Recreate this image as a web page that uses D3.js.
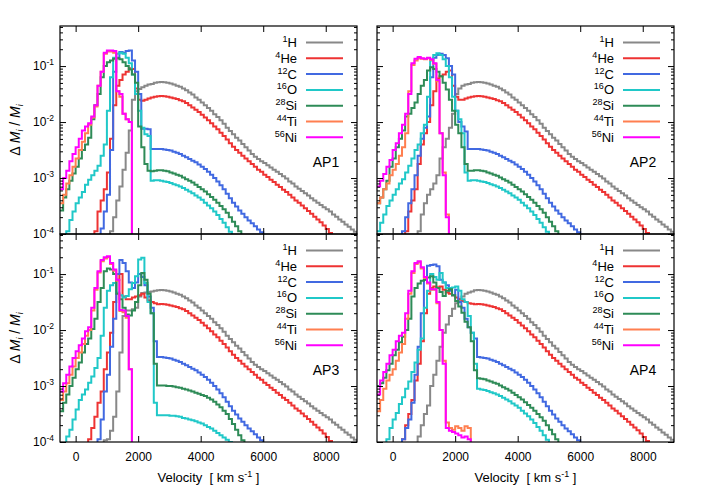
<!DOCTYPE html>
<html>
<head>
<meta charset="utf-8">
<script src="https://cdn.jsdelivr.net/npm/d3@7"></script>
<style>
body { margin: 0; background: #fff; }
text { font-family: "Liberation Sans", Arial, sans-serif; fill: #000; }
</style>
</head>
<body>
<svg id="chart" width="708" height="487"></svg>
<script>
var species = ["H", "He", "C", "O", "Si", "Ti", "Ni"];
var massNumbers = ["1", "4", "12", "16", "28", "44", "56"];
var modelNames = ["AP1", "AP2", "AP3", "AP4"];
var velocityTicks = [0, 2000, 4000, 6000, 8000];
var decadeTicks = [1e-4, 1e-3, 1e-2, 1e-1];
var binWidth = 100;     // km/s
var tailStart = 2600;   // first bin of the shared outer tails

// values below are log10(dM_i / M_i), one per 100 km/s bin

// outer envelope, same in all models
var tailH = [-1.29, -1.285, -1.29, -1.30, -1.31, -1.33, -1.35, -1.37, -1.40, -1.43, -1.47, -1.51, -1.56, -1.60, -1.65, -1.70, -1.75, -1.80, -1.86, -1.91, -1.97, -2.03, -2.10, -2.16, -2.22, -2.28, -2.33, -2.39, -2.45, -2.51, -2.57, -2.62, -2.66, -2.70, -2.73, -2.77, -2.81, -2.85, -2.89, -2.93, -2.97, -3.01, -3.06, -3.10, -3.15, -3.19, -3.23, -3.27, -3.31, -3.36, -3.40, -3.44, -3.48, -3.52, -3.56, -3.60, -3.65, -3.69, -3.74, -3.78, -3.83, -3.87, -3.92, -3.96, -4.01];
var tailHe = [-1.54, -1.535, -1.54, -1.55, -1.56, -1.575, -1.59, -1.61, -1.63, -1.66, -1.70, -1.74, -1.78, -1.82, -1.87, -1.92, -1.97, -2.02, -2.08, -2.13, -2.19, -2.25, -2.31, -2.38, -2.44, -2.50, -2.55, -2.60, -2.65, -2.70, -2.75, -2.80, -2.85, -2.89, -2.94, -2.98, -3.03, -3.07, -3.12, -3.16, -3.21, -3.25, -3.30, -3.35, -3.40, -3.44, -3.49, -3.54, -3.59, -3.64, -3.69, -3.74, -3.79, -3.85, -3.91, -3.98, -4.05];
var tailC = [-2.48, -2.48, -2.49, -2.50, -2.51, -2.53, -2.55, -2.57, -2.60, -2.63, -2.66, -2.69, -2.72, -2.76, -2.80, -2.84, -2.89, -2.94, -3.00, -3.06, -3.13, -3.20, -3.28, -3.36, -3.44, -3.51, -3.58, -3.64, -3.70, -3.76, -3.81, -3.86, -3.92, -3.97, -4.02];
var tailO = [-3.04, -3.05, -3.06, -3.07, -3.09, -3.11, -3.13, -3.15, -3.18, -3.21, -3.24, -3.27, -3.31, -3.35, -3.39, -3.44, -3.49, -3.54, -3.60, -3.66, -3.73, -3.80, -3.88, -3.96, -4.05];
var tailSi = [-2.86, -2.86, -2.87, -2.88, -2.90, -2.92, -2.94, -2.96, -2.99, -3.02, -3.05, -3.08, -3.12, -3.16, -3.20, -3.24, -3.29, -3.34, -3.39, -3.44, -3.50, -3.56, -3.62, -3.70, -3.78, -3.86, -3.95, -4.04];
var ap3TailO = [-3.52, -3.52, -3.52, -3.52, -3.53, -3.53, -3.54, -3.55, -3.57, -3.58, -3.60, -3.61, -3.63, -3.65, -3.67, -3.70, -3.73, -3.76, -3.80, -3.84, -3.88, -3.92, -3.96, -4.0, -4.05];
var ap3TailSi = [-2.99, -2.99, -2.99, -3.0, -3.0, -3.01, -3.02, -3.03, -3.05, -3.06, -3.08, -3.10, -3.12, -3.14, -3.16, -3.18, -3.21, -3.24, -3.28, -3.33, -3.38, -3.44, -3.50, -3.59, -3.68, -3.78, -3.88, -3.97, -4.05];

// AP1: first bin velocity for H, He, C, O, Si, Ti, Ni
var ap1Start = [1100, 600, 800, -300, -500, -500, -500];
var ap1H = [-3.95, -3.7, -3.4, -3.15, -2.85, -2.55, -2.15, -1.6, -1.45, -1.41, -1.38, -1.35, -1.33, -1.32, -1.30];
var ap1He = [-3.95, -3.6, -3.4, -3.2, -2.9, -2.3, -1.7, -1.35, -1.25, -1.15, -1.1, -1.04, -1.05, -1.4, -1.6, -1.62, -1.6, -1.58, -1.56, -1.55];
var ap1C = [-3.9, -3.6, -3.3, -2.5, -1.1, -0.85, -0.75, -0.76, -0.73, -0.72, -0.9, -1.1, -1.5, -2.12, -2.12, -2.13, -2.48, -2.48];
var ap1O = [-3.95, -3.75, -3.6, -3.45, -3.35, -3.25, -3.12, -3.03, -2.95, -2.87, -2.78, -2.6, -2.4, -1.8, -1.2, -0.85, -0.78, -0.76, -0.78, -0.85, -0.95, -1.15, -1.5, -1.8, -2.1, -2.22, -2.25, -3.05, -3.04];
var ap1Si = [-3.58, -3.35, -3.2, -3.05, -2.92, -2.8, -2.65, -2.5, -2.4, -2.28, -1.95, -1.7, -1.5, -1.2, -1.0, -0.93, -0.9, -0.87, -0.86, -0.88, -0.93, -1.0, -1.06, -1.15, -1.3, -2.08, -2.45, -2.75, -2.87, -2.88, -2.87];
var ap1Ti = [-3.45, -3.3, -3.1, -2.95, -2.8, -2.65, -2.5, -2.35, -2.2, -2.05, -1.92, -1.72, -1.35, -1.1, -0.78, -0.74, -0.74, -0.76, -1.45, -1.55, -1.85, -1.95, -2.0];
var ap1Ni = [-3.2, -3.0, -2.87, -2.7, -2.57, -2.45, -2.3, -2.15, -2.08, -2.02, -1.9, -1.7, -1.35, -1.1, -0.76, -0.72, -0.72, -0.73, -1.45, -1.5, -1.85, -1.95, -2.0];

// AP2
var ap2Start = [800, 400, 300, -500, -500, -500, -500];
var ap2H = [-3.95, -3.65, -3.45, -3.3, -3.2, -3.1, -2.95, -2.65, -2.45, -2.3, -2.1, -1.85, -1.5, -1.4, -1.35, -1.33, -1.32, -1.3];
var ap2He = [-3.95, -3.6, -3.4, -3.2, -2.75, -2.4, -2.2, -2.0, -1.7, -1.45, -1.22, -1.18, -1.15, -1.1, -1.08, -1.35, -1.55, -1.6, -1.6, -1.58, -1.56, -1.55];
var ap2C = [-3.95, -3.7, -3.45, -3.2, -2.95, -2.6, -2.3, -2.1, -1.9, -1.2, -0.85, -0.8, -0.78, -0.8, -0.86, -1.0, -1.15, -1.8, -2.0, -2.08, -2.17, -2.48, -2.48];
var ap2O = [-3.95, -3.8, -3.65, -3.5, -3.4, -3.3, -3.2, -3.1, -3.02, -2.9, -2.78, -2.65, -2.5, -2.4, -2.2, -2.05, -1.55, -0.9, -0.8, -0.77, -0.8, -0.88, -1.0, -1.2, -1.55, -1.8, -1.95, -2.2, -2.9, -3.05, -3.04];
var ap2Si = [-3.45, -3.35, -3.2, -3.05, -2.8, -2.65, -2.45, -2.3, -2.15, -1.9, -1.85, -1.75, -1.65, -1.5, -1.35, -1.25, -1.08, -1.02, -1.05, -1.1, -1.18, -1.3, -1.42, -1.6, -1.8, -2.05, -2.2, -2.45, -2.75, -2.87, -2.87];
var ap2Ti = [-3.45, -3.35, -3.2, -3.1, -2.95, -2.85, -2.75, -2.6, -2.45, -2.2, -1.45, -0.98, -0.9, -0.86, -0.87, -0.88, -0.86, -0.89, -0.96, -1.27, -2.2, -2.9, -3.65];
var ap2Ni = [-3.15, -3.05, -2.93, -2.8, -2.68, -2.5, -2.38, -2.2, -2.05, -1.85, -1.5, -0.95, -0.87, -0.84, -0.86, -0.87, -0.85, -0.88, -0.95, -1.25, -2.2, -2.95, -3.7];

// AP3
var ap3Start = [900, 400, 700, -300, -500, -500, -500];
var ap3H = [-3.97, -3.95, -3.8, -3.55, -3.1, -2.4, -1.75, -1.65, -1.65, -1.63, -1.6, -1.4, -1.34, -1.33, -1.32, -1.31, -1.3];
var ap3He = [-3.95, -3.75, -3.55, -3.3, -3.1, -2.7, -2.4, -2.05, -1.5, -1.1, -1.0, -1.4, -1.45, -1.45, -1.42, -1.4, -1.38, -1.35, -1.42, -1.47, -1.5, -1.52];
var ap3C = [-3.95, -3.6, -3.1, -2.8, -2.3, -1.8, -1.0, -0.75, -0.8, -0.95, -1.15, -1.25, -1.15, -1.0, -1.05, -1.2, -1.4, -1.6, -2.2];
var ap3O = [-3.9, -3.78, -3.6, -3.42, -3.25, -3.15, -3.06, -2.94, -2.83, -2.68, -2.5, -2.1, -1.6, -1.3, -1.2, -1.16, -1.33, -1.38, -1.42, -1.39, -1.27, -1.16, -1.04, -0.74, -0.71, -1.16, -1.5, -1.7, -3.3];
var ap3Si = [-3.45, -3.3, -3.15, -3.0, -2.85, -2.7, -2.58, -2.4, -2.25, -2.15, -1.98, -1.8, -1.5, -1.25, -0.95, -0.9, -0.92, -1.0, -1.35, -1.45, -1.6, -1.72, -1.74, -1.65, -1.5, -1.2, -0.98, -1.1, -1.35, -1.7, -2.6];
var ap3Ti = [-3.25, -3.1, -2.95, -2.8, -2.65, -2.5, -2.4, -2.25, -2.1, -2.0, -1.65, -1.28, -0.97, -0.77, -0.72, -0.7, -0.82, -0.94, -1.12, -1.66, -1.68, -1.78, -2.7];
var ap3Ni = [-3.1, -2.95, -2.8, -2.65, -2.5, -2.38, -2.27, -2.15, -2.02, -1.95, -1.6, -1.25, -0.95, -0.75, -0.7, -0.68, -0.8, -0.92, -1.1, -1.64, -1.65, -1.75, -2.7];

// AP4
var ap4Start = [800, 300, 300, -200, -500, -500, -500];
var ap4H = [-3.9, -3.7, -3.5, -3.35, -3.0, -2.8, -2.55, -2.3, -2.05, -1.9, -1.75, -1.62, -1.52, -1.45, -1.4, -1.35, -1.33, -1.31];
var ap4He = [-3.95, -3.7, -3.5, -3.25, -2.9, -2.6, -2.2, -1.7, -1.35, -1.25, -1.22, -1.24, -1.22, -1.28, -1.33, -1.35, -1.38, -1.42, -1.45, -1.48, -1.5, -1.52, -1.53];
var ap4C = [-3.95, -3.75, -3.6, -3.3, -2.8, -2.3, -1.7, -1.1, -0.85, -0.84, -0.83, -0.86, -1.1, -1.15, -1.2, -1.3, -1.38, -1.28, -1.5, -1.6, -1.8, -1.95, -2.05, -2.15];
var ap4O = [-3.95, -3.75, -3.6, -3.48, -3.32, -3.2, -3.05, -2.92, -2.75, -2.58, -2.35, -2.15, -1.6, -1.3, -1.0, -1.05, -1.1, -0.98, -1.15, -1.25, -1.25, -1.24, -1.22, -1.3, -1.45, -1.5, -1.75, -2.05, -2.6];
var ap4Si = [-3.0, -2.95, -2.85, -2.72, -2.6, -2.45, -2.35, -2.22, -2.12, -2.0, -1.8, -1.4, -1.25, -1.17, -1.12, -1.1, -1.06, -1.04, -1.15, -1.25, -1.32, -1.39, -1.3, -1.27, -1.38, -1.48, -1.58, -1.69, -1.85, -1.95, -2.2, -2.72];
var ap4Ti = [-3.45, -3.25, -3.05, -2.9, -2.8, -2.7, -2.55, -2.4, -2.25, -1.8, -1.35, -0.98, -0.82, -0.79, -0.9, -1.07, -1.17, -1.28, -1.28, -1.52, -2.0, -2.55, -3.65, -3.75, -3.78, -3.72, -3.75, -3.8, -3.72, -3.75];
var ap4Ni = [-3.15, -2.9, -2.75, -2.6, -2.45, -2.35, -2.2, -2.1, -2.05, -1.7, -1.3, -0.95, -0.8, -0.77, -0.88, -1.05, -1.15, -1.27, -1.27, -1.5, -2.0, -2.6, -3.75, -3.8, -3.82, -3.85, -3.88, -3.92, -3.9, -3.95];

var colormap = {
	H: "#888888",
	He: "#ee3333",
	C: "#4169e1",
	O: "#20c8c8",
	Si: "#2e8b57",
	Ti: "#ff7f50",
	Ni: "#ff00ff"
};

var models = [
	{ start: ap1Start, core: [ap1H, ap1He, ap1C, ap1O, ap1Si, ap1Ti, ap1Ni], tail: [tailH, tailHe, tailC, tailO, tailSi, null, null] },
	{ start: ap2Start, core: [ap2H, ap2He, ap2C, ap2O, ap2Si, ap2Ti, ap2Ni], tail: [tailH, tailHe, tailC, tailO, tailSi, null, null] },
	{ start: ap3Start, core: [ap3H, ap3He, ap3C, ap3O, ap3Si, ap3Ti, ap3Ni], tail: [tailH, tailHe, tailC, ap3TailO, ap3TailSi, null, null] },
	{ start: ap4Start, core: [ap4H, ap4He, ap4C, ap4O, ap4Si, ap4Ti, ap4Ni], tail: [tailH, tailHe, tailC, tailO, tailSi, null, null] }
];

// panel frames (px)
var panels = [
	{ left: 60, top: 26, col: 0, row: 0 },
	{ left: 377, top: 26, col: 1, row: 0 },
	{ left: 60, top: 234, col: 0, row: 1 },
	{ left: 377, top: 234, col: 1, row: 1 }
];
var pw = 297, ph = 208;

var x = d3.scaleLinear().domain([-500, 9000]).range([0, pw]);
var y = d3.scaleLog().domain([1e-4, 0.52]).range([ph, 0]);

var minorTicks = [];
decadeTicks.forEach(function (d) {
	for (var k = 2; k <= 9; k++) if (d * k < 0.52) minorTicks.push(d * k);
});

var svg = d3.select("#chart");

var line = d3.line()
	.x(function (d) { return x(d[0]); })
	.y(function (d) { return y(d[1]); })
	.curve(d3.curveStepAfter);

function binsOf(start, core, tail) {
	var logs = core.slice();
	if (tail) {
		var k = (start + core.length * binWidth - tailStart) / binWidth;
		logs = logs.concat(tail.slice(k));
	}
	var pts = [];
	if (start > x.domain()[0]) pts.push([start, 1e-6]);
	logs.forEach(function (e, i) {
		pts.push([start + i * binWidth, Math.pow(10, e)]);
	});
	var end = start + logs.length * binWidth;
	pts.push([end, Math.pow(10, logs[logs.length - 1])]);
	pts.push([end, 1e-6]);
	return pts;
}

function supLabel(sel, base, exp, size) {
	sel.text(null);
	sel.append("tspan").text(base);
	sel.append("tspan").attr("dy", -5).style("font-size", size + "px").text(exp);
}

panels.forEach(function (p, pi) {
	var g = svg.append("g").attr("transform", "translate(" + p.left + "," + p.top + ")");

	g.append("clipPath").attr("id", "clip" + pi)
		.append("rect").attr("width", pw).attr("height", ph);

	var model = models[pi];
	var plot = g.append("g").attr("clip-path", "url(#clip" + pi + ")");
	species.forEach(function (s, si) {
		plot.append("path")
			.datum(binsOf(model.start[si], model.core[si], model.tail[si]))
			.attr("d", line)
			.attr("fill", "none")
			.attr("stroke", colormap[s])
			.attr("stroke-width", 2);
	});

	// axes, ticks pointing inward
	var bottom = g.append("g").attr("transform", "translate(0," + ph + ")")
		.call(d3.axisBottom(x).tickValues(velocityTicks).tickSizeInner(-6).tickSizeOuter(0).tickPadding(10)
			.tickFormat(p.row == 1 ? d3.format("d") : ""));
	g.append("g").call(d3.axisTop(x).tickValues(velocityTicks).tickSizeInner(-6).tickSizeOuter(0).tickFormat(""));
	var left = g.append("g")
		.call(d3.axisLeft(y).tickValues(decadeTicks).tickSizeInner(-6).tickSizeOuter(0).tickPadding(6)
			.tickFormat(function (d) { return p.col == 0 ? "x" : ""; }));
	g.append("g").call(d3.axisLeft(y).tickValues(minorTicks).tickSizeInner(-3).tickSizeOuter(0).tickFormat(""));
	g.append("g").attr("transform", "translate(" + pw + ",0)")
		.call(d3.axisRight(y).tickValues(decadeTicks).tickSizeInner(-6).tickSizeOuter(0).tickFormat(""));
	g.append("g").attr("transform", "translate(" + pw + ",0)")
		.call(d3.axisRight(y).tickValues(minorTicks).tickSizeInner(-3).tickSizeOuter(0).tickFormat(""));

	g.selectAll(".domain").remove();
	g.selectAll(".tick line").attr("stroke", "#000");
	g.selectAll(".tick text").style("font-size", "12px").attr("fill", "#000");

	if (p.col == 0) {
		left.selectAll(".tick text").each(function (d) {
			supLabel(d3.select(this), "10", String(Math.round(Math.log10(d))), 8.5);
		});
	}

	g.append("rect")
		.attr("width", pw).attr("height", ph)
		.attr("fill", "none").attr("stroke", "#000").attr("stroke-width", 1.2);

	// legend
	species.forEach(function (s, si) {
		var ly = 16.5 + si * 15.8;
		var t = g.append("text")
			.attr("x", pw - 60).attr("y", ly + 4.5)
			.attr("text-anchor", "end")
			.style("font-size", "13px");
		t.append("tspan").style("font-size", "9px").attr("dy", -5).text(massNumbers[si]);
		t.append("tspan").attr("dy", 5).text(s);
		g.append("line")
			.attr("x1", pw - 51).attr("x2", pw - 14)
			.attr("y1", ly).attr("y2", ly)
			.attr("stroke", colormap[s]).attr("stroke-width", 2);
	});

	g.append("text")
		.attr("x", pw - 31).attr("y", 141)
		.attr("text-anchor", "middle")
		.style("font-size", "14px")
		.text(modelNames[pi]);

	// axis titles
	if (p.row == 1) {
		var xt = g.append("text")
			.attr("x", pw / 2).attr("y", ph + 40)
			.attr("text-anchor", "middle")
			.style("font-size", "13px")
			.style("white-space", "pre");
		xt.append("tspan").text("Velocity  [ km s");
		xt.append("tspan").attr("dy", -5).style("font-size", "9px").text("-1");
		xt.append("tspan").attr("dy", 5).text(" ]");
	}
	if (p.col == 0) {
		var yt = g.append("text")
			.attr("transform", "translate(" + (15 - p.left + 5) + "," + (ph / 2) + ") rotate(-90)")
			.attr("text-anchor", "middle")
			.style("font-size", "14px")
			.style("white-space", "pre");
		yt.append("tspan").text("\u0394 ");
		yt.append("tspan").style("font-style", "italic").text("M");
		yt.append("tspan").style("font-style", "italic").style("font-size", "9px").attr("dy", 3).text("i");
		yt.append("tspan").attr("dy", -3).text(" / ");
		yt.append("tspan").style("font-style", "italic").text("M");
		yt.append("tspan").style("font-style", "italic").style("font-size", "9px").attr("dy", 3).text("i");
	}
});
</script>
</body>
</html>
